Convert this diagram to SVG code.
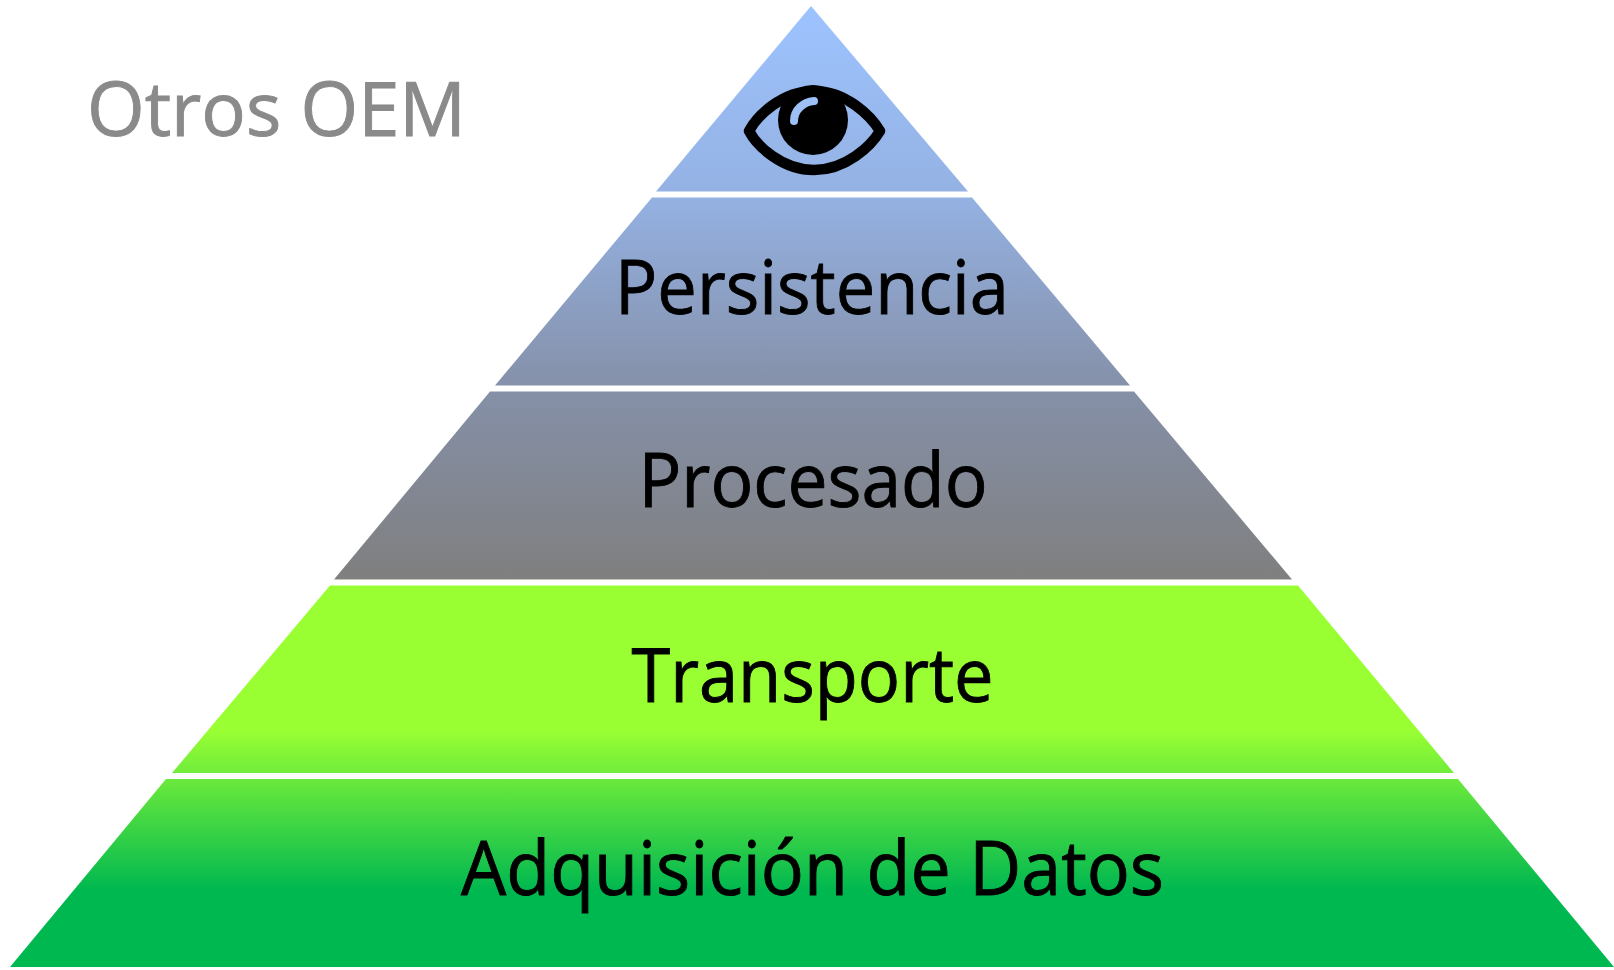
<svg xmlns="http://www.w3.org/2000/svg" width="1614" height="970" viewBox="0 0 1614 970">
<style>
.l{font-family:"Open Sans","Noto Sans","Liberation Sans",sans-serif;font-size:75px;fill:#000;stroke:#000;stroke-width:.9px}
.o{fill:#8a8a8a;stroke:#8a8a8a}
</style>
<defs>
<linearGradient id="g" gradientUnits="userSpaceOnUse" x1="0" y1="6" x2="0" y2="967">
<stop offset="0" stop-color="#9dc3ff"/>
<stop offset="0.2" stop-color="#94b1e2"/>
<stop offset="0.4" stop-color="#8590a8"/>
<stop offset="0.596" stop-color="#7f7f7f"/>
<stop offset="0.603" stop-color="#99ff33"/>
<stop offset="0.754" stop-color="#99ff33"/>
<stop offset="0.92" stop-color="#00b850"/>
<stop offset="1" stop-color="#00b850"/>
</linearGradient>
</defs>
<rect width="1614" height="970" fill="#fff"/>
<g id="connectors"/>
<g id="layer-vision">
<polygon points="811,6 968,191.5 656,191.5" fill="url(#g)"/>
<g id="eye">
<path d="M749 131C757 116 782 91 814 91C846 91 871 116 880 131C871 146 846 170 814 170C782 170 757 146 749 131Z" fill="none" stroke="#000" stroke-width="10.5" stroke-linejoin="round"/>
<circle cx="813" cy="120" r="35" fill="#000"/>
<path d="M794 121C794 110 803 102 814 101" fill="none" stroke="#9dc0f6" stroke-width="8" stroke-linecap="round"/>
</g>
</g>
<g id="layer-persistencia">
<polygon points="652,197.5 972,197.5 1130,385.5 495,385.5" fill="url(#g)"/>
<text class="l" x="812" y="314" text-anchor="middle" textLength="394" lengthAdjust="spacingAndGlyphs">Persistencia</text>
</g>
<g id="layer-procesado">
<polygon points="490,391.5 1134,391.5 1292,579.5 334,579.5" fill="url(#g)"/>
<text class="l" x="813" y="507" text-anchor="middle" textLength="349" lengthAdjust="spacingAndGlyphs">Procesado</text>
</g>
<g id="layer-transporte">
<polygon points="330,585.5 1298,585.5 1454,773 172,773" fill="url(#g)"/>
<text class="l" x="812.5" y="702" text-anchor="middle" textLength="362" lengthAdjust="spacingAndGlyphs">Transporte</text>
</g>
<g id="layer-adquisicion">
<polygon points="166,779 1458,779 1614,967 10,967" fill="url(#g)"/>
<text class="l" x="812.5" y="895" text-anchor="middle" textLength="703" lengthAdjust="spacingAndGlyphs">Adquisición de Datos</text>
</g>
<g id="label-otros">
<text class="l o" x="87" y="136" textLength="379" lengthAdjust="spacingAndGlyphs">Otros OEM</text>
</g>
</svg>
